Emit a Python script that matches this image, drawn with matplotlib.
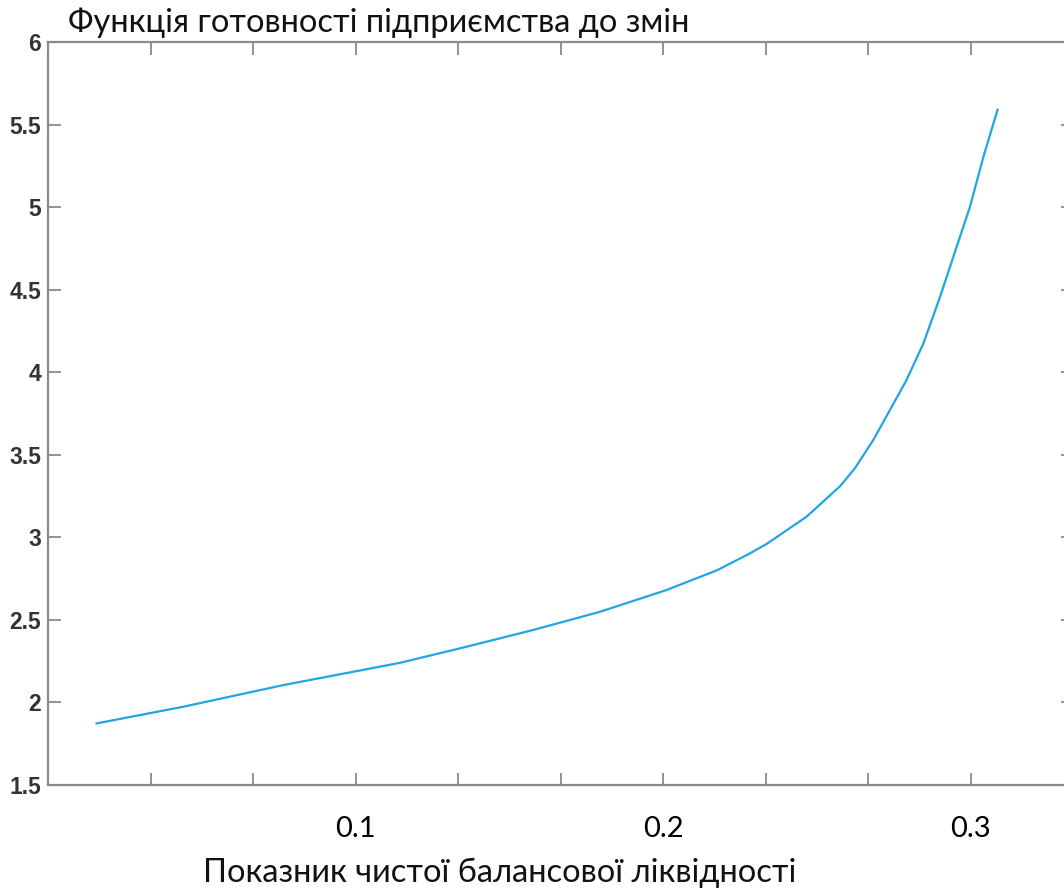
import numpy as np
import matplotlib.pyplot as plt

# values
liquidity = [0.0158, 0.044, 0.0765, 0.1145, 0.136, 0.158, 0.1795, 0.201, 0.2175,
             0.228, 0.2337, 0.2467, 0.2576, 0.2624, 0.2684, 0.2738, 0.2792,
             0.2847, 0.2901, 0.2955, 0.2998, 0.3042, 0.3088]
readiness = [1.873, 1.974, 2.105, 2.24, 2.337, 2.44, 2.549, 2.68, 2.80,
             2.90, 2.96, 3.125, 3.31, 3.418, 3.59, 3.771, 3.953,
             4.175, 4.457, 4.76, 5.00, 5.305, 5.59]

x_ticks = [k / 30 for k in range(1, 10)]
x_labels = ["0.1" if k == 3 else "0.2" if k == 6 else "0.3" if k == 9 else "" for k in range(1, 10)]
y_ticks = [1.5, 2, 2.5, 3, 3.5, 4, 4.5, 5, 5.5, 6]
y_labels = ["1.5", "2", "2.5", "3", "3.5", "4", "4.5", "5", "5.5", "6"]

title_txt = "Функція готовності підприємства до змін"
xlabel_txt = "Показник чистої балансової ліквідності"

fig = plt.figure(figsize=(10.64, 8.91), dpi=100)
ax = fig.add_axes([48 / 1064, 1 - 785 / 891, 1025 / 1064, 743 / 891])

ax.plot(liquidity, readiness, color='#22a5e6', linewidth=1.6)

ax.set_xlim(0, 1 / 3)
ax.set_ylim(1.5, 6)
ax.set_xticks(x_ticks)
ax.set_xticklabels(x_labels, fontsize=21, family='Lato')
ax.set_yticks(y_ticks)
ax.set_yticklabels(y_labels, fontsize=16.5, family='Liberation Sans', fontweight='bold', color='#333333')

for s in ax.spines.values():
    s.set_color('#8a8a8a')
    s.set_linewidth(1.6)

ax.tick_params(axis='both', direction='in', top=True, right=True, length=9, width=1.3, color='#8a8a8a')
ax.tick_params(axis='x', pad=22)
ax.tick_params(axis='y', pad=5)

fig.text(68 / 1064, 1 - 23 / 891, title_txt, fontsize=23.5, family='Lato', va='center', ha='left', color='#111111')
fig.text(500 / 1064, 1 - 873 / 891, xlabel_txt, fontsize=23.5, family='Lato', va='center', ha='center', color='#111111')

fig.savefig('out.png', dpi=100)
